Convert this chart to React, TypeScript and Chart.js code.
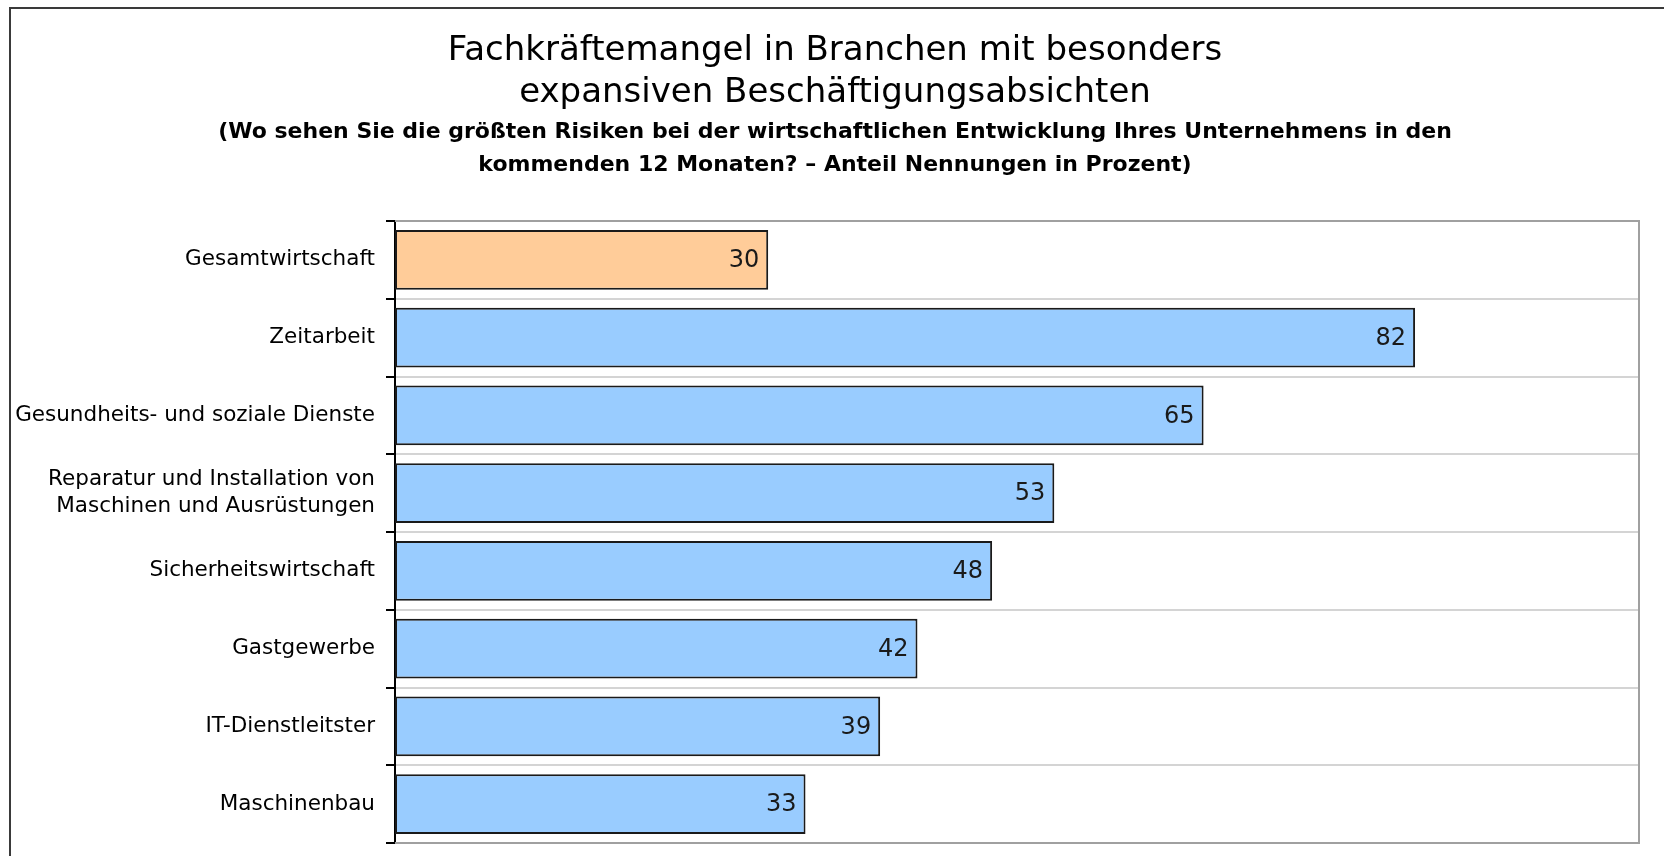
import React, { useEffect, useRef } from "react";
import { Chart, registerables } from "chart.js";

Chart.register(...registerables);

const categories: (string | string[])[] = [
  "Gesamtwirtschaft",
  "Zeitarbeit",
  "Gesundheits- und soziale Dienste",
  ["Reparatur und Installation von", "Maschinen und Ausrüstungen"],
  "Sicherheitswirtschaft",
  "Gastgewerbe",
  "IT-Dienstleitster",
  "Maschinenbau",
];

const values = [30, 82, 65, 53, 48, 42, 39, 33];

const barColors = [
  "#FFCC99",
  "#99CCFF",
  "#99CCFF",
  "#99CCFF",
  "#99CCFF",
  "#99CCFF",
  "#99CCFF",
  "#99CCFF",
];

const titleLines = [
  "Fachkräftemangel in Branchen mit besonders",
  "expansiven Beschäftigungsabsichten",
];

const subtitleLines = [
  "(Wo sehen Sie die größten Risiken bei der wirtschaftlichen Entwicklung Ihres Unternehmens in den",
  "kommenden 12 Monaten? – Anteil Nennungen in Prozent)",
];

const axisMin = 0;
const axisMax = 100;

const FONT = "'DejaVu Sans', sans-serif";

const framePlugin = {
  id: "frame",
  beforeDraw(chart: any) {
    const { ctx, width, height } = chart;
    ctx.save();
    ctx.fillStyle = "#ffffff";
    ctx.fillRect(0, 0, width, height);
    ctx.strokeStyle = "#3a3a3a";
    ctx.lineWidth = 2;
    ctx.beginPath();
    ctx.moveTo(10, height);
    ctx.lineTo(10, 8);
    ctx.lineTo(width, 8);
    ctx.stroke();
    ctx.restore();
  },
  beforeDatasetsDraw(chart: any) {
    const { ctx, chartArea } = chart;
    const { left, right, top, bottom } = chartArea;
    ctx.save();
    ctx.strokeStyle = "#a0a0a0";
    ctx.lineWidth = 2;
    ctx.beginPath();
    ctx.moveTo(left, top);
    ctx.lineTo(right, top);
    ctx.lineTo(right, bottom);
    ctx.lineTo(left, bottom);
    ctx.stroke();
    ctx.restore();
  },
};

const valueLabelPlugin = {
  id: "valueLabels",
  afterDatasetsDraw(chart: any) {
    const { ctx } = chart;
    const meta = chart.getDatasetMeta(0);
    const data = chart.data.datasets[0].data as number[];
    ctx.save();
    ctx.font = `24px ${FONT}`;
    ctx.fillStyle = "#1a1a1a";
    ctx.textAlign = "right";
    ctx.textBaseline = "middle";
    meta.data.forEach((bar: any, i: number) => {
      ctx.fillText(String(data[i]), bar.x - 9, bar.y + 1);
    });
    ctx.restore();
  },
};

export default function App() {
  const canvasRef = useRef<HTMLCanvasElement | null>(null);

  useEffect(() => {
    if (!canvasRef.current) return;
    const chart = new Chart(canvasRef.current, {
      type: "bar",
      data: {
        labels: categories,
        datasets: [
          {
            data: values,
            xAxisID: "x",
            yAxisID: "y",
            backgroundColor: barColors,
            borderColor: "#1a1a1a",
            borderWidth: 2,
            borderSkipped: false,
            barPercentage: 0.77,
            categoryPercentage: 1,
          },
        ],
      },
      options: {
        indexAxis: "y",
        animation: false,
        responsive: false,
        layout: { padding: { left: 6, right: 0, top: 0, bottom: 13 } },
        plugins: {
          legend: { display: false },
          tooltip: { enabled: false },
          title: {
            display: true,
            text: titleLines,
            color: "#000000",
            font: { family: FONT, size: 34, weight: "normal", lineHeight: 42 / 34 },
            padding: { top: 30.6, bottom: 0 },
          },
          subtitle: {
            display: true,
            text: subtitleLines,
            color: "#000000",
            font: { family: FONT, size: 22, weight: "bold", lineHeight: 33.4 / 22 },
            padding: { top: 0.5, bottom: 39.1 },
          },
        },
        scales: {
          x: {
            type: "linear",
            min: axisMin,
            max: axisMax,
            display: false,
          },
          y: {
            type: "category",
            position: "left",
            grid: {
              offset: true,
              color: "#d4d4d4",
              lineWidth: 2,
              tickColor: "#000000",
              tickLength: 9,
              tickWidth: 2,
            },
            border: { display: true, color: "#000000", width: 2 },
            ticks: {
              autoSkip: false,
              color: "#000000",
              padding: 11,
              font: { family: FONT, size: 21.5, lineHeight: 27 / 21.5 },
            },
            afterFit: (scale: any) => {
              scale.width = 389;
              scale.paddingTop = 0;
              scale.paddingBottom = 0;
            },
          },
          yRight: {
            type: "category",
            position: "right",
            grid: { display: false, drawOnChartArea: false },
            border: { display: false },
            ticks: { display: false },
            afterFit: (scale: any) => {
              scale.width = 25;
              scale.paddingTop = 0;
              scale.paddingBottom = 0;
            },
          },
        },
      },
      plugins: [framePlugin, valueLabelPlugin],
    });
    return () => chart.destroy();
  }, []);

  return (
    <div style={{ position: "fixed", left: 0, top: 0, width: 1664, height: 856 }}>
      <canvas ref={canvasRef} width={1664} height={856} />
    </div>
  );
}
